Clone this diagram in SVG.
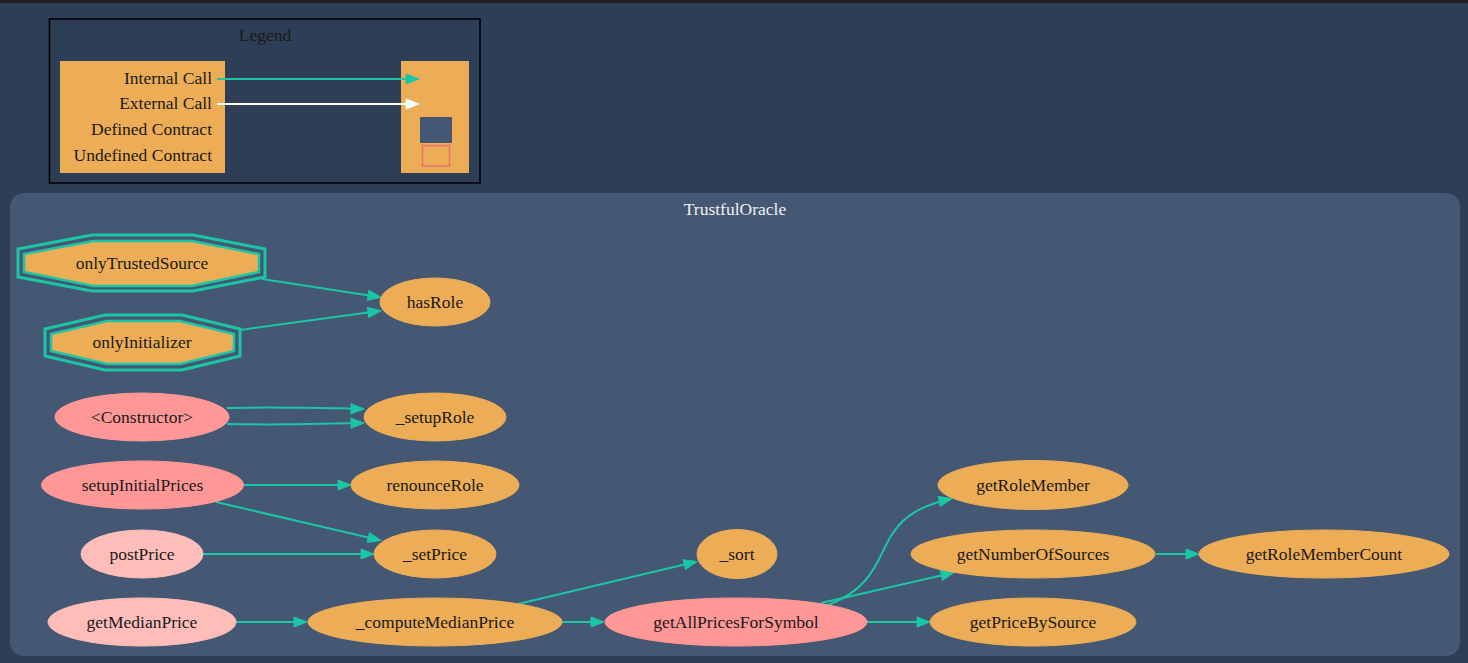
<svg xmlns="http://www.w3.org/2000/svg" width="1468" height="663" viewBox="0 0 1468 663">
<defs>
<style>
text{font-family:"Liberation Serif","Times New Roman",serif;font-size:17.5px;fill:#1a1a1a}
.c{text-anchor:middle}
.r{text-anchor:end}
.priv{fill:#edad56;stroke:#edad56;stroke-width:1}
.pub{fill:#ff9797;stroke:#ff9797;stroke-width:1}
.ext{fill:#ffbdb9;stroke:#ffbdb9;stroke-width:1}
.oct{fill:none;stroke:#1bc6a6;stroke-width:3}
.octi{fill:#edad56;stroke:#1bc6a6;stroke-width:2.5}
.e{fill:none;stroke:#1bc6a6;stroke-width:2;marker-end:url(#ah)}
</style>
<marker id="ah" markerUnits="userSpaceOnUse" markerWidth="16" markerHeight="14" refX="12" refY="6" orient="auto">
<path d="M1,1 L14,6 L1,11 z" fill="#1bc6a6" stroke="#1bc6a6" stroke-width="1"/>
</marker>
<marker id="ahw" markerUnits="userSpaceOnUse" markerWidth="16" markerHeight="14" refX="12" refY="6" orient="auto">
<path d="M1,1 L14,6 L1,11 z" fill="#ffffff" stroke="#ffffff" stroke-width="1"/>
</marker>
</defs>
<rect x="0" y="0" width="1468" height="663" fill="#2e3e56"/>
<rect x="0" y="0" width="1468" height="3" fill="#202020"/>

<g id="legend">
<rect x="49.5" y="19" width="430.5" height="164" fill="none" stroke="#000" stroke-width="1.5"/>
<text class="c" x="265" y="41" fill="#000">Legend</text>
<rect x="60" y="61" width="165" height="112" fill="#edad56"/>
<text class="r" x="212" y="84">Internal Call</text>
<text class="r" x="212" y="109">External Call</text>
<text class="r" x="212" y="135">Defined Contract</text>
<text class="r" x="212" y="161">Undefined Contract</text>
<rect x="401" y="61" width="68" height="112" fill="#edad56"/>
<rect x="420" y="117" width="32" height="26" fill="#445773"/>
<rect x="422.5" y="145.5" width="27" height="20.5" fill="none" stroke="#e8726d" stroke-width="1.5"/>
<path d="M217,79 L417,79" fill="none" stroke="#1bc6a6" stroke-width="2" marker-end="url(#ah)"/>
<path d="M217,104 L417,104" fill="none" stroke="#ffffff" stroke-width="2" marker-end="url(#ahw)"/>
</g>

<g id="cluster_TrustfulOracle">
<rect x="10" y="193" width="1450" height="463" rx="14" ry="14" fill="#445773"/>
<text class="c" x="735" y="215" style="fill:#f0f0f0">TrustfulOracle</text>
</g>

<g id="edges">
<path class="e" d="M262,279 L379,297"/>
<path class="e" d="M240,330 L379,311"/>
<path class="e" d="M227,408 C270,407 320,408 362,409"/>
<path class="e" d="M227,424 C270,425 320,424 362,423"/>
<path class="e" d="M244,485 L349,485"/>
<path class="e" d="M216,502 L379,540"/>
<path class="e" d="M203,554 L372,554"/>
<path class="e" d="M236,622 L305,622"/>
<path class="e" d="M518,604 L695,562"/>
<path class="e" d="M562,622 L602,622"/>
<path class="e" d="M828,605 C868,590 876,565 886,545 C898,520 915,507 950,499"/>
<path class="e" d="M821,603 L952,573"/>
<path class="e" d="M867,622 L928,622"/>
<path class="e" d="M1156,554 L1197,554"/>
</g>

<g id="onlyTrustedSource">
<polygon class="oct" points="92,235 193,235 265,249 265,277 193,291 92,291 18,277 18,249"/>
<polygon class="octi" points="93,241 192,241 259,254 259,272 192,286 93,286 24,272 24,254"/>
<text class="c" x="142" y="269">onlyTrustedSource</text>
</g>
<g id="onlyInitializer">
<polygon class="oct" points="105,315 182,315 240,329 240,356 182,370 105,370 45,356 45,329"/>
<polygon class="octi" points="107,321 180,321 234,334 234,351 180,364 107,364 51,351 51,334"/>
<text class="c" x="142" y="348">onlyInitializer</text>
</g>
<g id="hasRole">
<ellipse class="priv" cx="435" cy="302" rx="55" ry="24"/>
<text class="c" x="435" y="308">hasRole</text>
</g>
<g id="Constructor">
<ellipse class="pub" cx="142" cy="417" rx="87" ry="24"/>
<text class="c" x="142" y="423">&lt;Constructor&gt;</text>
</g>
<g id="_setupRole">
<ellipse class="priv" cx="435" cy="417" rx="71" ry="24"/>
<text class="c" x="435" y="423">_setupRole</text>
</g>
<g id="setupInitialPrices">
<ellipse class="pub" cx="142.5" cy="485" rx="101" ry="24"/>
<text class="c" x="142.5" y="491">setupInitialPrices</text>
</g>
<g id="renounceRole">
<ellipse class="priv" cx="435" cy="485" rx="84" ry="24"/>
<text class="c" x="435" y="491">renounceRole</text>
</g>
<g id="postPrice">
<ellipse class="ext" cx="142" cy="554" rx="61" ry="24"/>
<text class="c" x="142" y="560">postPrice</text>
</g>
<g id="_setPrice">
<ellipse class="priv" cx="435" cy="554" rx="61" ry="24"/>
<text class="c" x="435" y="560">_setPrice</text>
</g>
<g id="getMedianPrice">
<ellipse class="ext" cx="142" cy="622" rx="94" ry="24"/>
<text class="c" x="142" y="628">getMedianPrice</text>
</g>
<g id="_computeMedianPrice">
<ellipse class="priv" cx="435" cy="622" rx="127" ry="24"/>
<text class="c" x="435" y="628">_computeMedianPrice</text>
</g>
<g id="_sort">
<ellipse class="priv" cx="737" cy="554" rx="40" ry="24.5"/>
<text class="c" x="737" y="560">_sort</text>
</g>
<g id="getAllPricesForSymbol">
<ellipse class="pub" cx="736" cy="622" rx="131" ry="24"/>
<text class="c" x="736" y="628">getAllPricesForSymbol</text>
</g>
<g id="getRoleMember">
<ellipse class="priv" cx="1033" cy="485" rx="95" ry="24.5"/>
<text class="c" x="1033" y="491">getRoleMember</text>
</g>
<g id="getNumberOfSources">
<ellipse class="priv" cx="1033" cy="554" rx="122" ry="24"/>
<text class="c" x="1033" y="560">getNumberOfSources</text>
</g>
<g id="getRoleMemberCount">
<ellipse class="priv" cx="1324" cy="554" rx="125" ry="24"/>
<text class="c" x="1324" y="560">getRoleMemberCount</text>
</g>
<g id="getPriceBySource">
<ellipse class="priv" cx="1033" cy="622" rx="103" ry="24"/>
<text class="c" x="1033" y="628">getPriceBySource</text>
</g>
</svg>
